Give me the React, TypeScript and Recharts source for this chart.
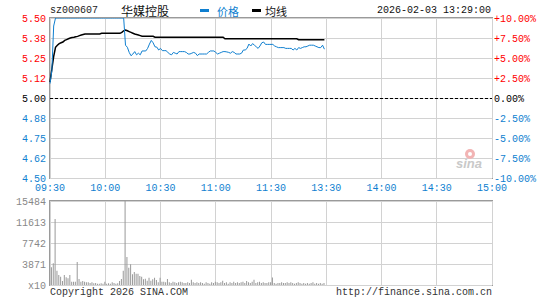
import React from 'react';
import {
  LineChart,
  Line,
  BarChart,
  Bar,
  XAxis,
  YAxis,
  CartesianGrid,
  ReferenceLine,
} from 'recharts';

/* ---------------------------------------
   DATA
---------------------------------------- */
const stockCode = 'sz000607';
const stockName = '华媒控股';
const timestamp = '2026-02-03 13:29:00';
const prevClose = 5.0;

// one value per minute from 09:30 (index 0) to 13:29 (index 149)
const prices = [
  5.09, 5.17, 5.45, 5.5, 5.5, 5.5, 5.5, 5.5, 5.5, 5.5,
  5.5, 5.5, 5.5, 5.5, 5.5, 5.5, 5.5, 5.5, 5.5, 5.5,
  5.5, 5.5, 5.5, 5.5, 5.5, 5.5, 5.5, 5.5, 5.5, 5.5,
  5.5, 5.5, 5.5, 5.5, 5.5, 5.5, 5.5, 5.5, 5.5, 5.5,
  5.5, 5.33, 5.317, 5.285, 5.264, 5.275, 5.29, 5.27, 5.28, 5.27,
  5.294, 5.294, 5.294, 5.31, 5.337, 5.36, 5.345, 5.32, 5.318, 5.3,
  5.31, 5.296, 5.296, 5.296, 5.285, 5.275, 5.27, 5.285, 5.28, 5.275,
  5.29, 5.29, 5.29, 5.29, 5.285, 5.275, 5.275, 5.28, 5.285, 5.28,
  5.265, 5.275, 5.275, 5.275, 5.275, 5.275, 5.285, 5.294, 5.294, 5.294,
  5.285, 5.275, 5.28, 5.285, 5.29, 5.29, 5.288, 5.285, 5.28, 5.29,
  5.285, 5.275, 5.275, 5.275, 5.28, 5.3, 5.3, 5.31, 5.337, 5.325,
  5.34, 5.33, 5.32, 5.31, 5.325, 5.345, 5.35, 5.335, 5.335, 5.335,
  5.335, 5.335, 5.325, 5.32, 5.315, 5.315, 5.315, 5.315, 5.31, 5.31,
  5.31, 5.31, 5.3, 5.31, 5.3, 5.315, 5.31, 5.315, 5.32, 5.32,
  5.325, 5.33, 5.33, 5.33, 5.325, 5.32, 5.315, 5.315, 5.33, 5.305,
];

const avgPrices = [
  5.1, 5.18, 5.26, 5.317, 5.33, 5.34, 5.345, 5.35, 5.36, 5.365,
  5.37, 5.375, 5.378, 5.38, 5.383, 5.385, 5.39, 5.394, 5.397, 5.4,
  5.4, 5.4, 5.4, 5.4, 5.4, 5.4, 5.4, 5.4, 5.404, 5.404,
  5.404, 5.404, 5.404, 5.404, 5.404, 5.404, 5.404, 5.404, 5.404, 5.41,
  5.42, 5.425, 5.42, 5.415, 5.41, 5.405, 5.4, 5.397, 5.394, 5.39,
  5.386, 5.386, 5.386, 5.386, 5.386, 5.386, 5.386, 5.38, 5.38, 5.38,
  5.38, 5.38, 5.38, 5.38, 5.38, 5.38, 5.38, 5.38, 5.38, 5.38,
  5.38, 5.38, 5.38, 5.38, 5.38, 5.38, 5.38, 5.38, 5.38, 5.38,
  5.38, 5.38, 5.38, 5.38, 5.38, 5.38, 5.38, 5.38, 5.38, 5.38,
  5.38, 5.38, 5.38, 5.38, 5.38, 5.37, 5.37, 5.37, 5.37, 5.37,
  5.37, 5.37, 5.37, 5.37, 5.37, 5.37, 5.37, 5.37, 5.37, 5.37,
  5.37, 5.37, 5.37, 5.37, 5.37, 5.37, 5.37, 5.37, 5.37, 5.37,
  5.37, 5.37, 5.37, 5.37, 5.37, 5.37, 5.37, 5.37, 5.37, 5.37,
  5.37, 5.37, 5.37, 5.37, 5.37, 5.364, 5.364, 5.364, 5.364, 5.364,
  5.364, 5.364, 5.364, 5.364, 5.364, 5.364, 5.364, 5.364, 5.364, 5.364,
];

const volumes = [
  790, 3260, 4000, 12150, 2640, 1840, 1530, 740, 1840, 1420,
  1230, 1840, 610, 610, 610, 4240, 1100, 610, 740, 610,
  490, 490, 370, 490, 300, 370, 250, 250, 300, 250,
  610, 250, 300, 250, 490, 370, 250, 300, 740, 1100,
  2640, 15484, 5160, 3190, 3810, 1970, 2400, 2080, 2080, 1660,
  1540, 1050, 1170, 800, 1350, 800, 1050, 1350, 920, 490,
  1350, 610, 610, 490, 1100, 490, 370, 610, 490, 370,
  490, 610, 490, 370, 370, 490, 370, 980, 490, 370,
  490, 370, 490, 370, 250, 490, 370, 250, 490, 370,
  610, 490, 370, 490, 800, 370, 490, 250, 490, 370,
  610, 370, 490, 370, 490, 610, 370, 740, 490, 370,
  610, 980, 370, 490, 610, 370, 490, 370, 370, 490,
  490, 1400, 370, 250, 370, 370, 490, 370, 370, 490,
  370, 490, 370, 250, 370, 490, 370, 250, 370, 250,
  370, 250, 370, 490, 250, 370, 250, 370, 250, 370,
];

const timeTicks = [0, 30, 60, 90, 120, 150, 180, 210, 240];
const timeLabels = ['09:30', '10:00', '10:30', '11:00', '11:30', '13:30', '14:00', '14:30', '15:00'];

const priceTicks = [4.5, 4.625, 4.75, 4.875, 5.0, 5.125, 5.25, 5.375, 5.5];
const priceLabels = ['4.50', '4.62', '4.75', '4.88', '5.00', '5.12', '5.25', '5.38', '5.50'];
const pctLabels = ['-10.00%', '-7.50%', '-5.00%', '-2.50%', '0.00%', '+2.50%', '+5.00%', '+7.50%', '+10.00%'];

const volumeTicks = [0, 3871, 7742, 11613, 15484];
const volumeLabels = ['x10', '3871', '7742', '11613', '15484'];

/* ---------------------------------------
   STYLE
---------------------------------------- */
const MONO = '"Liberation Mono", "DejaVu Sans Mono", monospace';
const RED = '#ff0000';
const BLUE = '#0f7fd0';
const GRID = '#d2d2d2';
const FRAME = '#9a9a9a';

const tableData = prices.map((price, i) => ({
  i,
  price,
  avg: avgPrices[i],
  volume: volumes[i],
}));

function colorFor(value: number) {
  if (Math.abs(value - prevClose) < 1e-9) return '#000';
  return value > prevClose ? RED : BLUE;
}

function LeftPriceTick(props: any) {
  const { x, y, payload } = props;
  const idx = priceTicks.indexOf(payload.value);
  return (
    <text x={x} y={y} dy={3.5} textAnchor="end" fontFamily={MONO} fontSize={10} fill={colorFor(payload.value)}>
      {priceLabels[idx]}
    </text>
  );
}

function RightPctTick(props: any) {
  const { x, y, payload } = props;
  const idx = priceTicks.indexOf(payload.value);
  return (
    <text x={x} y={y} dy={3.5} textAnchor="start" fontFamily={MONO} fontSize={10} fill={colorFor(payload.value)}>
      {pctLabels[idx]}
    </text>
  );
}

function TimeTick(props: any) {
  const { x, y, payload } = props;
  const idx = timeTicks.indexOf(payload.value);
  return (
    <text x={x} y={y} dy={7} textAnchor="middle" fontFamily={MONO} fontSize={10} fill={BLUE}>
      {timeLabels[idx]}
    </text>
  );
}

function VolumeTick(props: any) {
  const { x, y, payload } = props;
  const idx = volumeTicks.indexOf(payload.value);
  return (
    <text x={x} y={y} dy={3.5} textAnchor="end" fontFamily={MONO} fontSize={10} fill="#888">
      {volumeLabels[idx]}
    </text>
  );
}

/* ---------------------------------------
   MAIN COMPONENT
---------------------------------------- */
export default function App() {
  const text = (left: number, top: number, extra: React.CSSProperties = {}) => ({
    position: 'absolute' as const,
    left,
    top,
    fontFamily: MONO,
    fontSize: 10,
    lineHeight: '12px',
    whiteSpace: 'nowrap' as const,
    ...extra,
  });

  return (
    <div style={{ position: 'absolute', left: 0, top: 0, width: 545, height: 300, background: '#fff', overflow: 'hidden' }}>
      {/* Frames (behind the charts) */}
      <div style={{ position: 'absolute', left: 49, top: 17, width: 444, height: 162, border: `1px solid ${FRAME}`, boxSizing: 'border-box' }} />
      <div style={{ position: 'absolute', left: 49, top: 200, width: 444, height: 86, border: `1px solid ${FRAME}`, boxSizing: 'border-box' }} />

      {/* Header */}
      <div style={text(50, 5, { color: '#222' })}>{stockCode}</div>
      <div style={text(121, 4, { fontFamily: '"Noto Sans CJK SC", sans-serif', fontSize: 12, lineHeight: '14px', color: '#111' })}>
        {stockName}
      </div>
      <div style={{ position: 'absolute', left: 200, top: 9, width: 9, height: 3, background: BLUE }} />
      <div style={text(217, 4, { fontFamily: '"Noto Sans CJK SC", sans-serif', fontSize: 11, lineHeight: '14px', color: BLUE })}>价格</div>
      <div style={{ position: 'absolute', left: 252, top: 9, width: 9, height: 3, background: '#000' }} />
      <div style={text(265, 4, { fontFamily: '"Noto Sans CJK SC", sans-serif', fontSize: 11, lineHeight: '14px', color: '#111' })}>均线</div>
      <div style={text(377, 5, { color: '#111' })}>{timestamp}</div>

      {/* Price chart */}
      <div style={{ position: 'absolute', left: 0, top: 0 }}>
        <LineChart width={545} height={300} data={tableData} margin={{ top: 18, right: 0, bottom: 102, left: 0 }}>
          <CartesianGrid yAxisId="left" stroke={GRID} strokeWidth={1} shapeRendering="crispEdges" />
          <XAxis
            dataKey="i"
            type="number"
            domain={[0, 240]}
            ticks={timeTicks}
            interval={0}
            axisLine={false}
            tickLine={false}
            tickSize={0}
            tickMargin={6}
            height={20}
            tick={<TimeTick />}
          />
          <YAxis
            yAxisId="left"
            orientation="left"
            width={50}
            domain={[4.5, 5.5]}
            ticks={priceTicks}
            interval={0}
            axisLine={false}
            tickLine={false}
            tickSize={0}
            tickMargin={4}
            tick={<LeftPriceTick />}
            allowDataOverflow
          />
          <YAxis
            yAxisId="right"
            orientation="right"
            width={53}
            domain={[4.5, 5.5]}
            ticks={priceTicks}
            interval={0}
            axisLine={false}
            tickLine={false}
            tickSize={0}
            tickMargin={2}
            tick={<RightPctTick />}
            allowDataOverflow
          />
          <ReferenceLine yAxisId="left" y={prevClose} stroke="#000" strokeDasharray="3 2" shapeRendering="crispEdges" />
          <Line
            yAxisId="left"
            dataKey="avg"
            type="linear"
            stroke="#000"
            strokeWidth={1.5}
            dot={false}
            isAnimationActive={false}
          />
          <Line
            yAxisId="left"
            dataKey="price"
            type="linear"
            stroke={BLUE}
            strokeWidth={1}
            dot={false}
            isAnimationActive={false}
          />
        </LineChart>
      </div>

      {/* Volume chart */}
      <div style={{ position: 'absolute', left: 0, top: 0 }}>
        <BarChart width={545} height={300} data={tableData} margin={{ top: 201, right: 53, bottom: 15, left: 0 }}>
          <CartesianGrid stroke={GRID} strokeWidth={1} shapeRendering="crispEdges" />
          <XAxis dataKey="i" type="number" domain={[0, 240]} ticks={timeTicks} interval={0} hide />
          <YAxis
            width={50}
            domain={[0, 15484]}
            ticks={volumeTicks}
            interval={0}
            axisLine={false}
            tickLine={false}
            tickSize={0}
            tickMargin={4}
            tick={<VolumeTick />}
          />
          <Bar dataKey="volume" fill="#999" barSize={1} isAnimationActive={false} />
        </BarChart>
      </div>

      {/* sina watermark */}
      <svg style={{ position: 'absolute', left: 452, top: 146 }} width={42} height={26}>
        <circle cx={18} cy={8} r={5} fill="#f2b4b4" />
        <circle cx={18} cy={8} r={2} fill="#fff" />
        <text x={4} y={22} fontFamily="Arial, sans-serif" fontStyle="italic" fontWeight="bold" fontSize={13} fill="#c9c9c9">
          sina
        </text>
      </svg>

      {/* Footer */}
      <div style={text(50, 287, { color: '#333' })}>Copyright 2026 SINA.COM</div>
      <div style={text(336, 287, { color: '#333' })}>http://finance.sina.com.cn</div>
    </div>
  );
}
